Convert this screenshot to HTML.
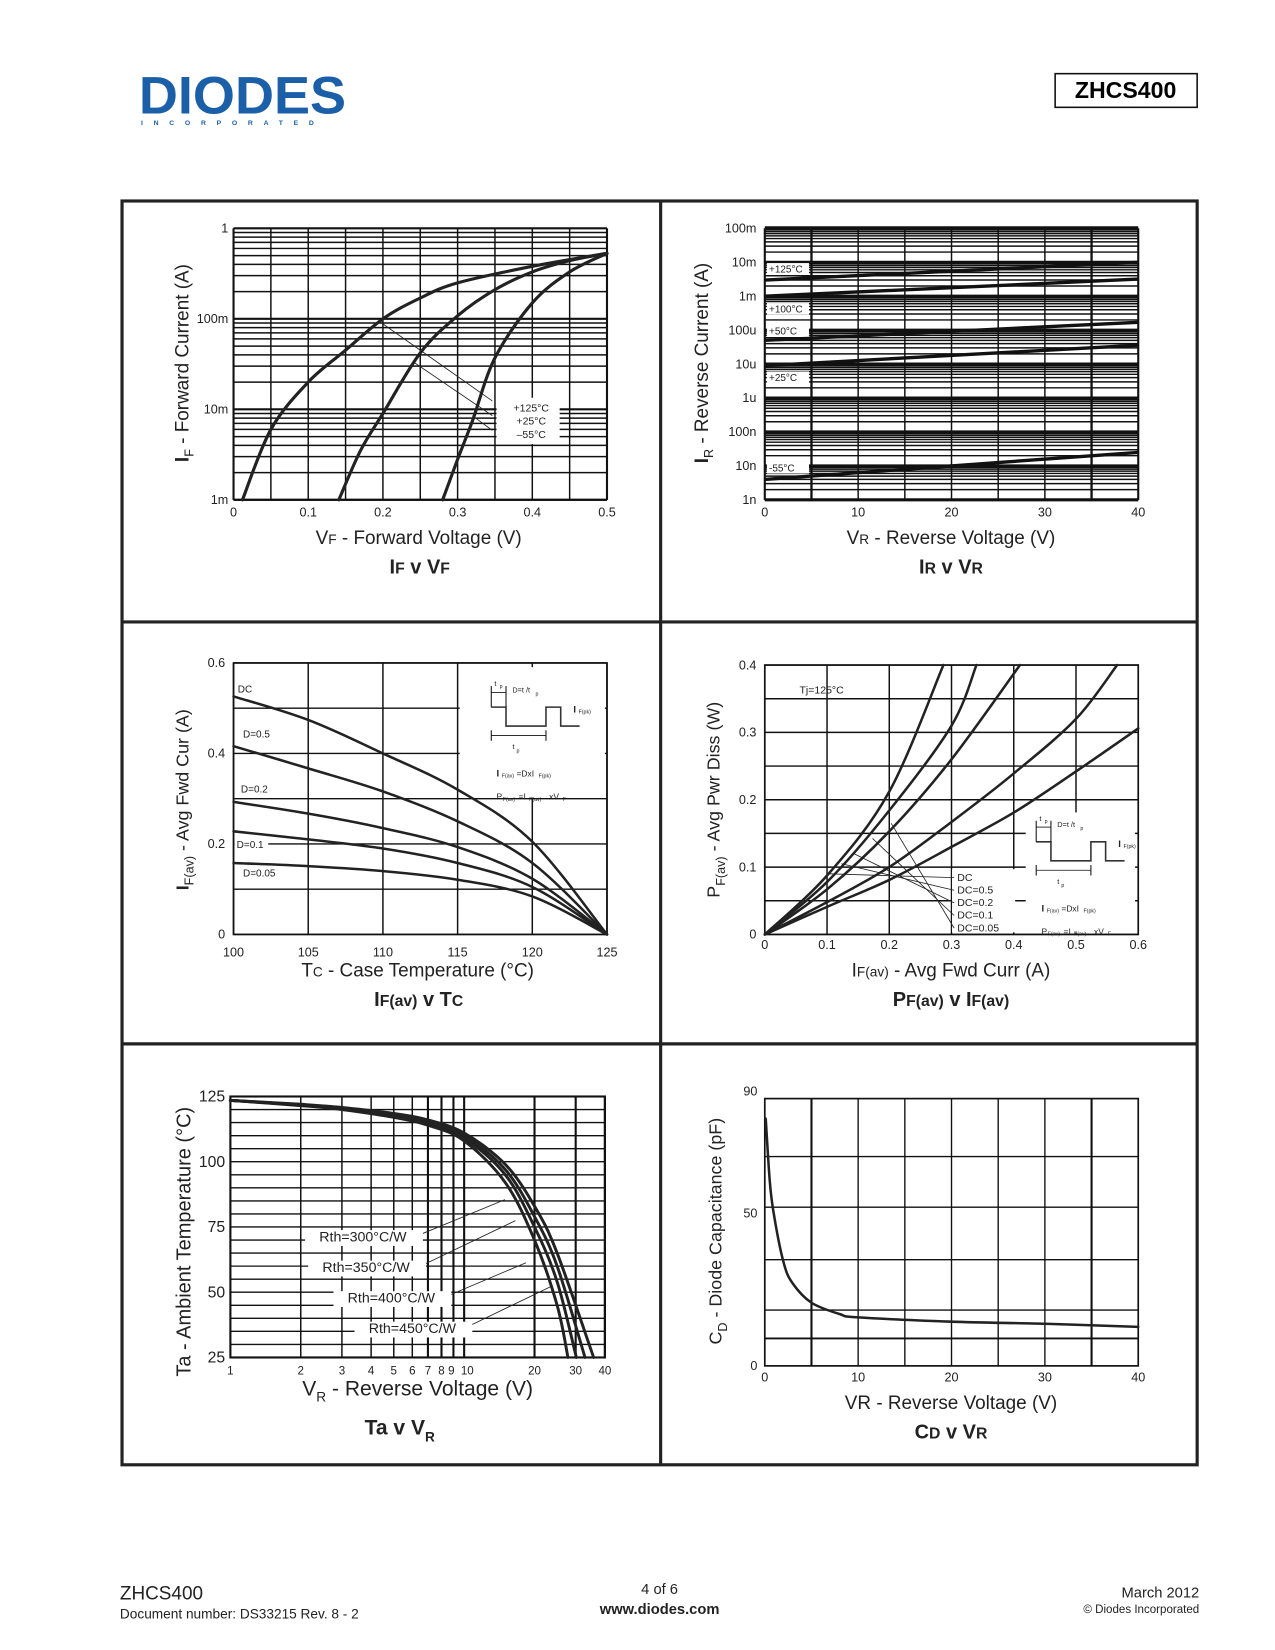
<!DOCTYPE html>
<html><head><meta charset="utf-8"><title>ZHCS400 page 4</title>
<style>
html,body{margin:0;padding:0;background:#fff;}
svg{display:block;font-family:"Liberation Sans",sans-serif;}
</style></head>
<body>
<svg id="page" xmlns="http://www.w3.org/2000/svg" width="1275" height="1650" viewBox="0 0 1212 1568" preserveAspectRatio="none">
<rect x="0" y="0" width="1212" height="1568" fill="#fff"/>
<g>
<text x="132" y="108" font-size="50" font-weight="900" fill="#1b5fa9" textLength="197" lengthAdjust="spacingAndGlyphs" style="font-family:'Liberation Sans',sans-serif">DIODES</text>
<text x="134" y="119" font-size="6.5" font-weight="bold" fill="#1b5fa9" letter-spacing="10.2">INCORPORATED</text>
</g>
<g>
<rect x="1003" y="70" width="135" height="32" fill="none" stroke="#111" stroke-width="1.5"/>
<text x="1070" y="93" font-size="22" font-weight="bold" text-anchor="middle">ZHCS400</text>
</g>
<g fill="none" stroke="#222" stroke-width="3">
<rect x="116" y="191" width="1022" height="1201"/>
<line x1="628" y1="191" x2="628" y2="1392"/>
<line x1="116" y1="591" x2="1138" y2="591"/>
<line x1="116" y1="992" x2="1138" y2="992"/>
</g>
<g fill="#222">
<text x="114" y="1520" font-size="18">ZHCS400</text>
<text x="114" y="1538" font-size="13">Document number: DS33215 Rev. 8 - 2</text>
<text x="627" y="1515" font-size="14" text-anchor="middle">4 of 6</text>
<text x="627" y="1534" font-size="14" font-weight="bold" text-anchor="middle">www.diodes.com</text>
<text x="1140" y="1518" font-size="14" text-anchor="end">March 2012</text>
<text x="1140" y="1533" font-size="11" text-anchor="end">© Diodes Incorporated</text>
</g>
<g id="charts"></g>
</svg>
<script>
// ---------- data ----------
// Chart 1: IF v VF
const vf125 = [0.012,0.05,0.1,0.15,0.2,0.25,0.3,0.4,0.5];
const if125 = [0.001,0.006,0.02,0.045,0.1,0.17,0.25,0.38,0.53];
const vf25 = [0.141,0.17,0.2,0.25,0.3,0.35,0.4,0.45,0.5];
const if25 = [0.001,0.0035,0.009,0.042,0.108,0.21,0.33,0.44,0.53];
const vfm55 = [0.28,0.3,0.32,0.35,0.4,0.45,0.5];
const ifm55 = [0.001,0.0028,0.0075,0.037,0.15,0.33,0.53];
const c1XTicks = [0,0.1,0.2,0.3,0.4,0.5];
const c1YTicks = ['1m','10m','100m','1'];
// Chart 2: IR v VR (values at VR=0 and VR=40)
const irTemps = ['+125°C','+100°C','+50°C','+25°C','-55°C'];
const irAt0 = [3e-3,1e-3,5e-5,9e-6,4e-9];
const irAt40 = [1e-2,3.2e-3,1.7e-4,3.6e-5,2.5e-8];
const c2YTicks = ['1n','10n','100n','1u','10u','100u','1m','10m','100m'];
const c2XTicks = [0,10,20,30,40];
// Chart 3: IF(av) v TC
const tc = [100,105,110,115,120,125];
const ifavDC = [0.526,0.474,0.40,0.32,0.205,0];
const ifavD05 = [0.416,0.367,0.316,0.25,0.158,0];
const ifavD02 = [0.293,0.267,0.235,0.193,0.123,0];
const ifavD01 = [0.228,0.21,0.19,0.158,0.105,0];
const ifavD005 = [0.158,0.151,0.14,0.121,0.084,0];
const c3Labels = ['DC','D=0.5','D=0.2','D=0.1','D=0.05'];
const c3XTicks = [100,105,110,115,120,125];
const c3YTicks = [0,0.2,0.4,0.6];
// Chart 4: PF(av) v IF(av)
const p1I = [0,0.1,0.2,0.287]; const p1P = [0,0.0875,0.212,0.4];
const p2I = [0,0.1,0.2,0.3,0.34]; const p2P = [0,0.078,0.184,0.31,0.4];
const p3I = [0,0.1,0.2,0.3,0.41]; const p3P = [0,0.067,0.153,0.26,0.4];
const p4I = [0,0.1,0.2,0.3,0.4,0.5,0.566]; const p4P = [0,0.048,0.10,0.167,0.239,0.32,0.4];
const p5I = [0,0.1,0.2,0.3,0.4,0.5,0.6]; const p5P = [0,0.041,0.081,0.13,0.181,0.242,0.306];
const c4Labels = ['DC','DC=0.5','DC=0.2','DC=0.1','DC=0.05'];
const c4XTicks = [0,0.1,0.2,0.3,0.4,0.5,0.6];
const c4YTicks = [0,0.1,0.2,0.3,0.4];
// Chart 5: Ta v VR
const taVr300 = [1,2,3,5,7,10,15,20,25,27.8]; const ta300 = [123.5,121.5,120,117,114,108,92,70,45,25];
const taVr350 = [1,2,3,5,7,10,15,20,25,30.2]; const ta350 = [123.5,121.7,120.3,117.5,114.7,109,95,75,54,25];
const taVr400 = [1,2,3,5,7,10,15,20,25,32.9]; const ta400 = [123.5,121.8,120.5,118,115.3,110,97,79,60,25];
const taVr450 = [1,2,3,5,7,10,15,20,25,35.8]; const ta450 = [123.5,122,120.8,118.5,116,111,99,83,65,25];
const c5Labels = ['Rth=300°C/W','Rth=350°C/W','Rth=400°C/W','Rth=450°C/W'];
const c5XTicks = [1,2,3,4,5,6,7,8,9,10,20,30,40];
const c5YTicks = [25,50,75,100,125];
// Chart 6: CD v VR
const cdVr = [0.1,0.5,0.9,2,3,5,8,10,20,30,40];
const cdPf = [81,62,51,34,27,20.7,17,15.9,14.5,13.8,12.8];
const c6XTicks = [0,10,20,30,40];
const c6YTicks = [0,50,90];
const c6HGrid = [9,18.3,34.8,52,68.6];

// ---------- helpers ----------
const NS = 'http://www.w3.org/2000/svg';
const root = document.getElementById('charts');
function mk(tag, attrs, parent){
  const e = document.createElementNS(NS, tag);
  for (const k in attrs) e.setAttribute(k, attrs[k]);
  (parent || root).appendChild(e);
  return e;
}
function txt(parent, x, y, s, size, anchor, extra){
  const t = mk('text', Object.assign({x:x, y:y, 'font-size':size, 'text-anchor':anchor||'start', fill:'#222'}, extra||{}), parent);
  t.textContent = s;
  return t;
}
function smooth(pts){
  let d = 'M' + pts[0][0].toFixed(1) + ',' + pts[0][1].toFixed(1);
  for (let i=0;i<pts.length-1;i++){
    const p0 = pts[Math.max(0,i-1)], p1 = pts[i], p2 = pts[i+1], p3 = pts[Math.min(pts.length-1,i+2)];
    const c1x = p1[0]+(p2[0]-p0[0])/6, c1y = p1[1]+(p2[1]-p0[1])/6;
    const c2x = p2[0]-(p3[0]-p1[0])/6, c2y = p2[1]-(p3[1]-p1[1])/6;
    d += ' C'+c1x.toFixed(1)+','+c1y.toFixed(1)+' '+c2x.toFixed(1)+','+c2y.toFixed(1)+' '+p2[0].toFixed(1)+','+p2[1].toFixed(1);
  }
  return d;
}
function curve(parent, xs, ys, fx, fy, w){
  const pts = xs.map((v,i)=>[fx(v), fy(ys[i])]);
  return mk('path', {d:smooth(pts), fill:'none', stroke:'#222', 'stroke-width':w||3, 'stroke-linecap':'round'}, parent);
}
function hline(parent, x1, x2, y, w){ return mk('line',{x1:x1,x2:x2,y1:y,y2:y,stroke:'#111','stroke-width':w||1.4},parent); }
function vline(parent, x, y1, y2, w){ return mk('line',{x1:x,x2:x,y1:y1,y2:y2,stroke:'#111','stroke-width':w||1.4},parent); }

// ---------- Chart 1 ----------
{
  const g = mk('g', {});
  
  
  const L=222,R=577,T=217,B=475;
  const fx = v => L + (v/0.5)*(R-L);
  const fy = v => B - (Math.log10(v)+3)*86;
  for (let i=0;i<=10;i++){ const l = vline(g, fx(i*0.05), T, B, 1.4);
     }
  for (let d=-3; d<0; d++) for (let k=1;k<=9;k++){ const l = hline(g, L, R, fy(k*Math.pow(10,d)), k===1?2:1.4);
     }
  hline(g, L, R, T, 2); vline(g, L, T, B, 2); vline(g, R, T, B, 2); hline(g, L, R, B, 2);
  c1XTicks.forEach(v=>{ const t = txt(g, fx(v), 491, String(v===0?'0':v.toFixed(1)), 12, 'middle');
     });
  c1YTicks.forEach((s,i)=>{ const t = txt(g, 217, fy(Math.pow(10,i-3))+4, s, 12, 'end');
     });
  const c125 = curve(g, vf125, if125, fx, fy);
  
  const c25 = curve(g, vf25, if25, fx, fy);
  
  const cm55 = curve(g, vfm55, ifm55, fx, fy);
  
  mk('rect',{x:472,y:378,width:60,height:44,fill:'#fff'},g);
  [[360,305,468,381],[393,344,468,395],[449,395,468,409]].forEach(a=>{
    const l = mk('line',{x1:a[0],y1:a[1],x2:a[2],y2:a[3],stroke:'#222','stroke-width':0.8},g);
     });
  ['+125°C','+25°C','–55°C'].forEach((s,i)=>{ const t = txt(g, 505, 391+i*12.5, s, 10, 'middle');
     });
  const yt = txt(g, 179, 345, '', 18, 'middle', {transform:'rotate(-90 179 345)'});
  yt.innerHTML = '<tspan font-weight="bold">I</tspan><tspan font-size="12" dy="5">F</tspan><tspan dy="-5"> - Forward Current (A)</tspan>';
  
  const xt = txt(g, 398, 517, '', 18, 'middle');
  xt.innerHTML = 'V<tspan font-size="13">F</tspan> - Forward Voltage (V)';
  
  const ct = txt(g, 399, 545, '', 19, 'middle', {'font-weight':'bold'});
  ct.innerHTML = 'I<tspan font-size="15">F</tspan> v V<tspan font-size="15">F</tspan>';
  
}

// ---------- Chart 2 ----------
{
  const g = mk('g', {});
  
  
  const L=727,R=1082,T=217,B=475;
  const fx = v => L + (v/40)*(R-L);
  const fy = v => T + (-1 - Math.log10(v))*32.25;
  for (let i=0;i<=8;i++){ const l = vline(g, fx(i*5), T, B, i===1||i===7?2.2:1.4);
     }
  for (let d=-9; d<-1; d++) for (let k=1;k<=9;k++){ const l = hline(g, L, R, fy(k*Math.pow(10,d)), k===1?3:1.4);
     }
  hline(g, L, R, T, 4); vline(g, L, T, B, 2); vline(g, R, T, B, 2); hline(g, L, R, B, 2);
  c2XTicks.forEach(v=>{ const t = txt(g, fx(v), 491, String(v), 12, 'middle');
     });
  c2YTicks.forEach((s,i)=>{ const t = txt(g, 719, fy(Math.pow(10,i-9))+4, s, 12, 'end');
     });
  irTemps.forEach((s,i)=>{
    const l = mk('line',{x1:fx(0),y1:fy(irAt0[i]),x2:fx(40),y2:fy(irAt40[i]),stroke:'#111','stroke-width':3.2},g);
    
  });
  const labY = [258,296,317,361,447];
  irTemps.forEach((s,i)=>{
    mk('rect',{x:729,y:labY[i]-8,width:40,height:11,fill:'#fff'},g);
    const t = txt(g, 731, labY[i]+1, s, 9.5, 'start');
    
  });
  const yt = txt(g, 673, 345, '', 18, 'middle', {transform:'rotate(-90 673 345)'});
  yt.innerHTML = '<tspan font-weight="bold">I</tspan><tspan font-size="12" dy="5">R</tspan><tspan dy="-5"> - Reverse Current (A)</tspan>';
  
  const xt = txt(g, 904, 517, '', 18, 'middle');
  xt.innerHTML = 'V<tspan font-size="13">R</tspan> - Reverse Voltage (V)';
  
  const ct = txt(g, 904, 545, '', 19, 'middle', {'font-weight':'bold'});
  ct.innerHTML = 'I<tspan font-size="15">R</tspan> v V<tspan font-size="15">R</tspan>';
  
}

// ---------- inset waveform ----------
function inset(g, ox, oy){
  const wf = mk('path',{d:'M'+ox+','+(oy+22)+' h14 v18 h38 v-18 h14 v18 h18',fill:'none',stroke:'#333','stroke-width':1.5},g);
  
  vline(g, ox, oy+2, oy+22, 1); vline(g, ox+14, oy+2, oy+22, 1);
  hline(g, ox, ox+14, oy+8, 0.8);
  vline(g, ox, oy+44, oy+54, 1); vline(g, ox+52, oy+44, oy+54, 1);
  hline(g, ox, ox+52, oy+49, 0.8);
  txt(g, ox+3, oy+2, 't', 7); txt(g, ox+8, oy+4, 'p', 5);
  txt(g, ox+20, oy+8, 'D=t  /t', 7); txt(g, ox+42, oy+11, 'p', 5);
  txt(g, ox+78, oy+27, 'I', 9, 'start', {'font-weight':'bold'}); txt(g, ox+83, oy+28, 'F(pk)', 5);
  txt(g, ox+20, oy+62, 't', 7); txt(g, ox+24, oy+65, 'p', 5);
  txt(g, ox+5, oy+88, 'I', 9, 'start', {'font-weight':'bold'}); txt(g, ox+10, oy+89, 'F(av)', 5);
  txt(g, ox+24, oy+88, '=DxI', 8); txt(g, ox+45, oy+89, 'F(pk)', 5);
  txt(g, ox+5, oy+110, 'P', 8); txt(g, ox+11, oy+111, 'F(av)', 5);
  txt(g, ox+26, oy+110, '=I', 8); txt(g, ox+36, oy+111, 'F(av)', 5); txt(g, ox+55, oy+110, 'xV', 8); txt(g, ox+68, oy+111, 'F', 5);
}

// ---------- Chart 3 ----------
{
  const g = mk('g', {});
  
  
  const L=222,R=577,T=630,B=888;
  const fx = v => L + ((v-100)/25)*(R-L);
  const fy = v => B - (v/0.6)*(B-T);
  for (let i=0;i<=5;i++){ const l = vline(g, fx(100+i*5), T, B, 1.4);
     }
  for (let i=0;i<=6;i++){ const l = hline(g, L, R, fy(i*0.1), 1.4);
     }
  mk('rect',{x:L,y:T,width:R-L,height:B-T,fill:'none',stroke:'#111','stroke-width':1.6},g);
  mk('rect',{x:437,y:634,width:138,height:124,fill:'#fff'},g);
  inset(g, 467, 650);
  c3XTicks.forEach(v=>{ const t = txt(g, fx(v), 909, String(v), 12, 'middle');
     });
  c3YTicks.forEach(v=>{ const t = txt(g, 214, fy(v)+4, v===0?'0':v.toFixed(1), 12, 'end');
     });
  const series = [ifavDC, ifavD05, ifavD02, ifavD01, ifavD005];
  series.forEach((s,i)=>{ const c = curve(g, tc, s, fx, fy, 2.4);
     });
  const lp = [[226,658],[231,701],[229,753],[225,806],[231,833]];
  c3Labels.forEach((s,i)=>{
    if (i===3) mk('rect',{x:223,y:798,width:32,height:11,fill:'#fff'},g);
    const t = txt(g, lp[i][0], lp[i][1], s, 9.5);
     });
  const yt = txt(g, 179, 760, '', 17, 'middle', {transform:'rotate(-90 179 760)'});
  yt.innerHTML = '<tspan font-weight="bold">I</tspan><tspan font-size="12" dy="5">F(av)</tspan><tspan dy="-5"> - Avg Fwd Cur (A)</tspan>';
  
  const xt = txt(g, 397, 928, '', 18, 'middle');
  xt.innerHTML = 'T<tspan font-size="13">C</tspan> - Case Temperature (°C)';
  
  const ct = txt(g, 398, 956, '', 19, 'middle', {'font-weight':'bold'});
  ct.innerHTML = 'I<tspan font-size="15">F(av)</tspan> v T<tspan font-size="15">C</tspan>';
  
}

// ---------- Chart 4 ----------
{
  const g = mk('g', {});
  
  
  const L=727,R=1082,T=632,B=888;
  const fx = v => L + (v/0.6)*(R-L);
  const fy = v => B - (v/0.4)*(B-T);
  for (let i=0;i<=6;i++){ const l = vline(g, fx(i*0.1), T, B, 1.4);
     }
  for (let i=0;i<=8;i++){ const l = hline(g, L, R, fy(i*0.05), 1.4);
     }
  mk('rect',{x:L,y:T,width:R-L,height:B-T,fill:'none',stroke:'#111','stroke-width':1.6},g);
  mk('rect',{x:975,y:772,width:104,height:114,fill:'#fff'},g);
  mk('rect',{x:905,y:826,width:60,height:60,fill:'#fff'},g);
  inset(g, 985, 778);
  c4XTicks.forEach(v=>{ const t = txt(g, fx(v), 902, v===0?'0':v.toFixed(1), 12, 'middle');
     });
  c4YTicks.forEach(v=>{ const t = txt(g, 719, fy(v)+4, v===0?'0':v.toFixed(1), 12, 'end');
     });
  const xs = [p1I,p2I,p3I,p4I,p5I], ys = [p1P,p2P,p3P,p4P,p5P];
  xs.forEach((x,i)=>{ const c = curve(g, x, ys[i], fx, fy, 2.4);
     });
  const anchors = [0.12,0.14,0.16,0.19,0.22];
  c4Labels.forEach((s,i)=>{
    const yy = 837+i*12;
    const ai = anchors[i];
    const l = mk('line',{x1:fx(ai)-10, y1:fy(ai*0.75), x2:907, y2:yy-3, stroke:'#222','stroke-width':0.8},g);
    
    const t = txt(g, 910, yy, s, 10);
    
  });
  const tj = txt(g, 760, 659, 'Tj=125°C', 10);
  
  const yt = txt(g, 684, 760, '', 17, 'middle', {transform:'rotate(-90 684 760)'});
  yt.innerHTML = 'P<tspan font-size="12" dy="5">F(av)</tspan><tspan dy="-5"> - Avg Pwr Diss (W)</tspan>';
  
  const xt = txt(g, 904, 928, '', 18, 'middle');
  xt.innerHTML = 'I<tspan font-size="13">F(av)</tspan> - Avg Fwd Curr (A)';
  
  const ct = txt(g, 904, 956, '', 19, 'middle', {'font-weight':'bold'});
  ct.innerHTML = 'P<tspan font-size="15">F(av)</tspan> v I<tspan font-size="15">F(av)</tspan>';
  
}

// ---------- Chart 5 ----------
{
  const g = mk('g', {});
  
  
  const L=219,R=575,T=1042,B=1290;
  const fx = v => L + Math.log10(v)*(R-L)/Math.log10(40);
  const fy = v => B - ((v-25)/100)*(B-T);
  c5XTicks.forEach(v=>{ const l = vline(g, fx(v), T, B, v>=7?2:1.4);
     });
  for (let i=0;i<=20;i++){ const l = hline(g, L, R, fy(25+i*5), 1.3);
     }
  mk('rect',{x:L,y:T,width:R-L,height:B-T,fill:'none',stroke:'#111','stroke-width':2},g);
  c5XTicks.forEach(v=>{ const t = txt(g, fx(v)+(v===9?-2:v===10?3:0), 1306, String(v), 11, 'middle');
     });
  c5YTicks.forEach(v=>{ const t = txt(g, 214, fy(v)+5, String(v), 15, 'end');
     });
  const xs = [taVr300,taVr350,taVr400,taVr450], ys = [ta300,ta350,ta400,ta450];
  xs.forEach((x,i)=>{ const c = curve(g, x, ys[i], fx, fy, 2.8);
     });
  const lab = [[345,1180],[348,1209],[372,1238],[392,1267]];
  const tgt = [[480,1140],[490,1160],[500,1200],[525,1222]];
  c5Labels.forEach((s,i)=>{
    const l = mk('line',{x1:lab[i][0]+50, y1:lab[i][1]-5, x2:tgt[i][0], y2:tgt[i][1], stroke:'#222','stroke-width':0.8},g);
    
    mk('rect',{x:lab[i][0]-55,y:lab[i][1]-11,width:112,height:15,fill:'#fff'},g);
    const t = txt(g, lab[i][0], lab[i][1], s, 13.5, 'middle');
    
  });
  const yt = txt(g, 181, 1180, 'Ta - Ambient Temperature (°C)', 19, 'middle', {transform:'rotate(-90 181 1180)'});
  
  const xt = txt(g, 397, 1326, '', 20, 'middle');
  xt.innerHTML = 'V<tspan font-size="13" dy="6">R</tspan><tspan dy="-6"> - Reverse Voltage (V)</tspan>';
  
  const ct = txt(g, 380, 1363, '', 20, 'middle', {'font-weight':'bold'});
  ct.innerHTML = 'Ta v V<tspan font-size="13" dy="7">R</tspan>';
  
}

// ---------- Chart 6 ----------
{
  const g = mk('g', {});
  
  
  const L=727,R=1082,T=1044,B=1298;
  const fx = v => L + (v/40)*(R-L);
  const fy = v => B - v*(145/50);
  for (let i=0;i<=8;i++){ const l = vline(g, fx(i*5), T, B, i===1||i===7?2:1.3);
     }
  c6HGrid.forEach(v=>{ const l = hline(g, L, R, fy(v), v===9?1.8:1.3);
     });
  mk('rect',{x:L,y:T,width:R-L,height:B-T,fill:'none',stroke:'#111','stroke-width':1.6},g);
  c6XTicks.forEach(v=>{ const t = txt(g, fx(v), 1313, String(v), 12, 'middle');
     });
  c6YTicks.forEach(v=>{ const t = txt(g, 720, fy(v)+4, String(v), 12, 'end');
     });
  const c = curve(g, cdVr, cdPf, fx, fy, 2.4);
  
  const yt = txt(g, 686, 1170, '', 17, 'middle', {transform:'rotate(-90 686 1170)'});
  yt.innerHTML = 'C<tspan font-size="12" dy="5">D</tspan><tspan dy="-5"> - Diode Capacitance (pF)</tspan>';
  
  const xt = txt(g, 904, 1339, 'VR - Reverse Voltage (V)', 18, 'middle');
  
  const ct = txt(g, 904, 1367, '', 19, 'middle', {'font-weight':'bold'});
  ct.innerHTML = 'C<tspan font-size="15">D</tspan> v V<tspan font-size="15">R</tspan>';
  
}
</script>
</body></html>
